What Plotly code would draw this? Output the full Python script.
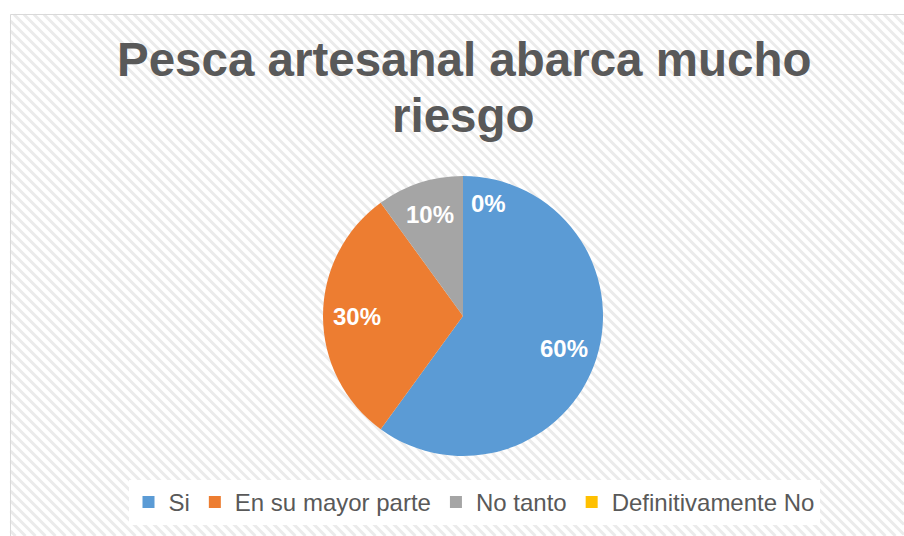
import math
import plotly.graph_objects as go

# ---- data ----
categories = ["Si", "En su mayor parte", "No tanto", "Definitivamente No"]
values = [60, 30, 10, 0]
colors = ["#5B9BD5", "#ED7D31", "#A5A5A5", "#FFC000"]
title_lines = ["Pesca artesanal abarca mucho", "riesgo"]

OFF = 0
W, H = 904, 536
FONT = "Arial, 'Liberation Sans', sans-serif"

def px(x):
    return (x - OFF) / W

def py(y):
    return 1 - (y - OFF) / H

# pie geometry (screen pixels)
CX, CY, R = 463, 316, 140

# background diagonal stripes inside chart border
x0, y0, x1, y1 = 10.5, 14.5, 904, 536
segs = []
step = 10
c = y0 - x1
while c < y1 - x0:
    xs = max(x0, y0 - c)
    xe = min(x1, y1 - c)
    if xe > xs:
        segs.append(f"M{px(xs):.5f},{py(xs + c):.5f}L{px(xe):.5f},{py(xe + c):.5f}")
    c += step
stripe_path = "".join(segs)

fig = go.Figure()
fig.add_trace(go.Pie(
    labels=categories,
    values=values,
    sort=False,
    direction="clockwise",
    rotation=0,
    marker=dict(colors=colors, line=dict(width=0)),
    textinfo="none",
    hoverinfo="label+percent",
    domain=dict(x=[px(CX - R), px(CX + R)], y=[py(CY + R), py(CY - R)]),
    showlegend=True,
))

# data labels derived from the values (mid-angle of each slice)
total = sum(values)
annotations = []
cum = 0
for v in values:
    frac = v / total
    mid = (cum + frac / 2) * 2 * math.pi
    cum += frac
    if v > 0:
        rr = 0.76 * R
        lx = CX + rr * math.sin(mid)
        ly = CY - rr * math.cos(mid)
        xanchor = "center"
    else:
        rr = 0.81 * R
        lx = CX + rr * math.sin(mid) + 6
        ly = CY - rr * math.cos(mid) + 1
        xanchor = "left"
    annotations.append(dict(
        text=f"<b>{round(frac * 100)}%</b>", x=px(lx), y=py(ly),
        xref="paper", yref="paper", xanchor=xanchor, yanchor="middle",
        showarrow=False, font=dict(family=FONT, size=24, color="white")))

shapes = [
    dict(type="path", xref="paper", yref="paper", path=stripe_path,
         line=dict(color="#ebebeb", width=3), layer="below"),
    dict(type="rect", xref="paper", yref="paper",
         x0=px(10.5), y0=py(14.5), x1=px(904 + 20), y1=py(536 + 20),
         line=dict(color="#d9d9d9", width=1), fillcolor="rgba(0,0,0,0)", layer="below"),
]

annotations += [
    dict(text=f"<b>{title_lines[0]}</b>", x=px(463.5), y=py(59.5), xref="paper", yref="paper",
         xanchor="center", yanchor="middle", showarrow=False,
         font=dict(family=FONT, size=47.5, color="#595959")),
    dict(text=f"<b>{title_lines[1]}</b>", x=px(463.5), y=py(115.5), xref="paper", yref="paper",
         xanchor="center", yanchor="middle", showarrow=False,
         font=dict(family=FONT, size=47.5, color="#595959")),
]

fig.update_layout(
    width=W, height=H,
    margin=dict(l=0, r=0, t=0, b=0),
    paper_bgcolor="white",
    plot_bgcolor="white",
    shapes=shapes,
    annotations=annotations,
    legend=dict(
        orientation="h",
        x=px(474), xanchor="center",
        y=py(525), yanchor="bottom",
        bgcolor="white",
        font=dict(family=FONT, size=24, color="#595959"),
        itemwidth=30,
        traceorder="normal",
    ),
)

fig.write_html(
    "out.html",
    config={"displayModeBar": False},
    post_script="document.body.style.margin='0';document.documentElement.style.overflow='hidden';document.body.style.overflow='hidden';",
)
